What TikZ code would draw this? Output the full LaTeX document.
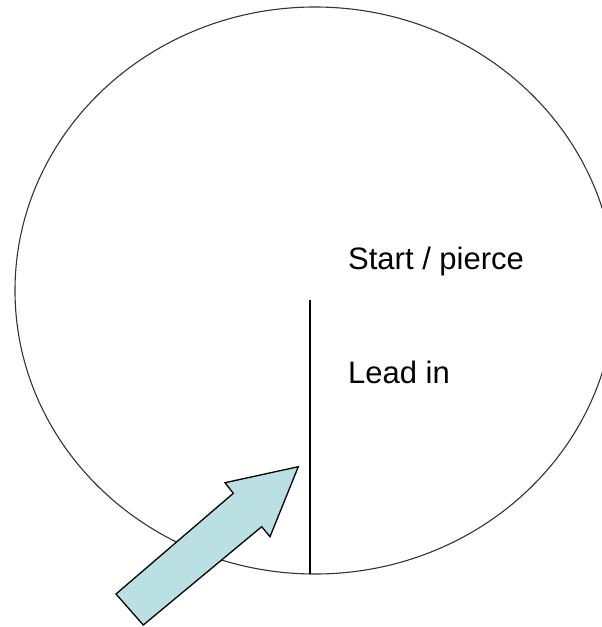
\documentclass[tikz,border=0pt]{standalone}
\usepackage{fontspec}
\setmainfont{Liberation Sans}
\definecolor{arrowfill}{HTML}{BBE0E3}
\definecolor{rimgray}{HTML}{333333}
\begin{document}
\begin{tikzpicture}[x=1pt,y=-1pt,
  label/.style={anchor=base west,inner sep=0pt,font=\fontsize{31pt}{37pt}\selectfont},
  rim/.style={draw=rimgray,line width=1.1pt},
  leadline/.style={draw=black,line width=1.3pt},
  blockarrow/.style={draw=black,line width=1.3pt,fill=arrowfill,line join=miter}]
\useasboundingbox (0,0) rectangle (602,627);
\clip (0,0) rectangle (602,627);
\draw[rim] (315,290.5) ellipse [x radius=300, y radius=283.5];
\coordinate (ltop) at (310,300);
\coordinate (lbot) at (310,574);
\draw[leadline] (ltop) -- (lbot);
\node[label] (start) at (348,269.3) {Start / pierce};
\node[label] (lead) at (348,383.3) {Lead in};
\draw[blockarrow] (298.3,466.7) -- (270,536.7) -- (261.7,526.7) -- (143.3,625)
  -- (116,594) -- (233.3,493.3) -- (225,482.7) -- cycle;
\end{tikzpicture}
\end{document}
